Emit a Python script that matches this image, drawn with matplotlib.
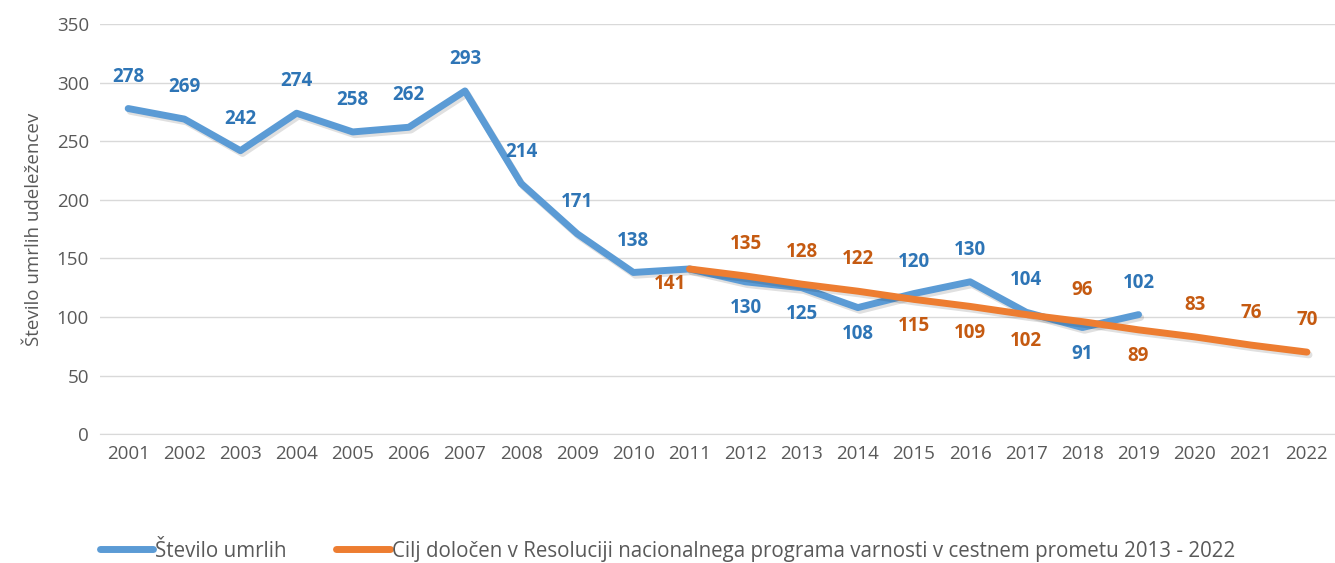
import matplotlib
matplotlib.use("Agg")
import matplotlib.pyplot as plt
import matplotlib.patheffects as pe

years = [str(y) for y in range(2001, 2023)]
deaths_years = [str(y) for y in range(2001, 2020)]
deaths = [278, 269, 242, 274, 258, 262, 293, 214, 171, 138, 141, 130, 125, 108, 120, 130, 104, 91, 102]
target_years = [str(y) for y in range(2011, 2023)]
target = [141, 135, 128, 122, 115, 109, 102, 96, 89, 83, 76, 70]

series_blue = "Število umrlih"
series_orange = "Cilj določen v Resoluciji nacionalnega programa varnosti v cestnem prometu 2013 - 2022"
ylabel = "Število umrlih udeležencev"

# label placement (a = above, b = below, n = none, l = below-left)
blue_pos = ["a"] * 10 + ["n", "b", "b", "b", "a", "a", "a", "b", "a"]
orange_pos = ["l", "a", "a", "a", "b", "b", "b", "a", "b", "a", "a", "a"]

plt.rcParams['font.family'] = ['Open Sans', 'DejaVu Sans']

fig = plt.figure(figsize=(13.35, 5.63), dpi=100)
ax = fig.add_axes([0.075, 0.229, 0.925, 0.728])

blue = "#5B9BD5"
orange = "#ED7D31"
blue_txt = "#2E75B6"
orange_txt = "#C55A11"
gray = "#595959"

xs_all = list(range(len(years)))
idx = {y: i for i, y in enumerate(years)}
bx = [idx[y] for y in deaths_years]
ox = [idx[y] for y in target_years]

shadow = [pe.SimpleLineShadow(offset=(1.5, -2), alpha=0.12, shadow_color='black'), pe.Normal()]
ax.plot(bx, deaths, color=blue, lw=5, solid_capstyle='round', solid_joinstyle='round',
        path_effects=shadow, label=series_blue, zorder=3)
ax.plot(ox, target, color=orange, lw=5, solid_capstyle='round', solid_joinstyle='round',
        path_effects=shadow, label=series_orange, zorder=4)

def put(xv, yv, pos, color):
    if pos == "n":
        return
    if pos == "a":
        off = (0, 23)
    elif pos == "b":
        off = (0, -19)
    else:
        off = (-14, -11)
    ax.annotate(str(yv), (xv, yv), xytext=off, textcoords='offset points',
                ha='center', va='center', fontsize=13.5, fontweight='bold', color=color, zorder=5)

for xv, yv, p in zip(bx, deaths, blue_pos):
    put(xv, yv, p, blue_txt)
for xv, yv, p in zip(ox, target, orange_pos):
    put(xv, yv, p, orange_txt)

ax.set_xlim(-0.5, len(years) - 0.5)
ax.set_ylim(0, 350)
ax.set_yticks(range(0, 351, 50))
ax.set_xticks(xs_all)
ax.set_xticklabels(years)
ax.tick_params(axis='both', length=0, labelsize=13.5, labelcolor=gray, pad=8)
ax.grid(axis='y', color='#D9D9D9', lw=1)
ax.set_axisbelow(True)
for s in ['top', 'right', 'left']:
    ax.spines[s].set_visible(False)
ax.spines['bottom'].set_color('#D9D9D9')
ax.set_ylabel(ylabel, fontsize=13.5, color=gray, labelpad=10)

h, l = ax.get_legend_handles_labels()
leg = fig.legend(h, l, loc='center', bbox_to_anchor=(0.5, 0.021), ncol=2, frameon=False,
                 fontsize=14.8, handlelength=2.6, handletextpad=0.1, columnspacing=2.4)
for t in leg.get_texts():
    t.set_color(gray)
for lh in leg.get_lines():
    lh.set_path_effects([])
    lh.set_linewidth(5)

fig.savefig("out.png", dpi=100)
